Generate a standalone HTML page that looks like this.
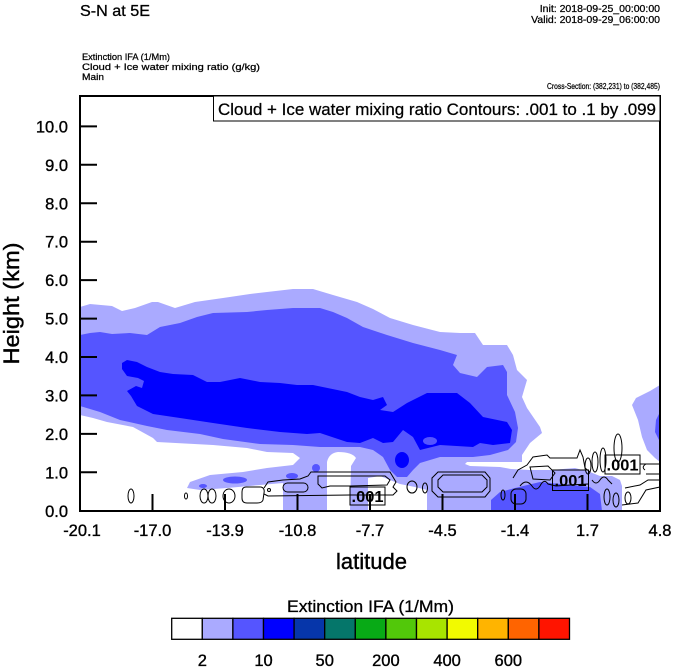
<!DOCTYPE html>
<html><head><meta charset="utf-8"><style>
html,body{margin:0;padding:0;background:#fff;}
body{width:674px;height:668px;overflow:hidden;}
svg{display:block;}
text{font-family:"Liberation Sans",Arial,Helvetica,sans-serif;fill:#000;}
</style></head><body>
<svg width="674" height="668" viewBox="0 0 674 668" xmlns="http://www.w3.org/2000/svg">
<rect x="0" y="0" width="674" height="668" fill="#fff"/>

<!-- header texts -->
<g stroke="#000" stroke-width="0.3">
<text x="80" y="16" font-size="16" textLength="70" lengthAdjust="spacingAndGlyphs">S-N at 5E</text>
</g>
<g stroke="#000" stroke-width="0.25">
<text x="660" y="12" font-size="10.5" text-anchor="end">Init: 2018-09-25_00:00:00</text>
<text x="660" y="23" font-size="10.5" text-anchor="end">Valid: 2018-09-29_06:00:00</text>
<text x="82" y="60" font-size="9.5" textLength="88" lengthAdjust="spacingAndGlyphs">Extinction IFA   (1/Mm)</text>
<text x="82" y="70" font-size="9.5" textLength="178" lengthAdjust="spacingAndGlyphs">Cloud + Ice water mixing ratio   (g/kg)</text>
<text x="82" y="80" font-size="9.5" textLength="22" lengthAdjust="spacingAndGlyphs">Main</text>
<text x="660" y="89" font-size="8.5" text-anchor="end" textLength="113" lengthAdjust="spacingAndGlyphs">Cross-Section: (382,231) to (382,485)</text>
</g>

<!-- filled field -->
<g stroke="none">
<path fill="#aaaaff" d="M80,307 L90,304 L112,306 L122,311 L135,308 L152,302 L158,302 L175,308 L195,302 L223,298 L250,294 L267,292 L293,289 L313,289 L333,295 L357,302 L373,309 L390,318 L413,325 L440,332 L460,333 L475,333 L483,345 L507,345 L513,355 L517,370 L527,380 L522,397 L527,408 L540,427 L542,433 L530,443 L522,455 L522,462 L495,462 L467,462 L465,464 L470,466 L500,467 L511,469 L530,470 L551,470 L575,468 L590,472 L600,476 L612,476 L620,480 L622,486 L622,511 L427,511 L427,490 L415,487 L400,484 L380,476 L368,478 L368,511 L283,511 L283,483 L260,485 L227,488 L200,490 L187,488 L190,482 L210,475 L243,472 L267,468 L293,465 L300,458 L293,453 L267,452 L247,448 L213,445 L157,442 L153,438 L133,427 L107,422 L93,418 L80,415 Z"/>
<path fill="#aaaaff" d="M660,385 L650,391 L636,398 L632,405 L638,420 L642,437 L647,450 L655,458 L660,462 Z"/>
<path fill="#ffffff" d="M327,511 L327,462 Q329,453 338,452 Q352,452 356,458 L351,466 L350,511 Z"/>
<path fill="#5555ff" d="M80,335 L90,333 L100,332 L112,334 L130,333 L147,335 L160,327 L180,323 L197,317 L213,313 L247,312 L267,310 L293,308 L320,308 L333,312 L347,318 L363,327 L387,335 L413,343 L440,350 L457,355 L453,365 L460,373 L477,377 L487,367 L503,365 L507,372 L507,395 L515,412 L518,428 L516,442 L508,450 L490,455 L473,457 L440,457 L420,463 L413,470 L407,477 L397,477 L390,470 L383,457 L373,450 L360,447 L340,447 L320,447 L293,445 L260,444 L223,439 L200,434 L167,430 L147,426 L120,420 L100,412 L80,406 Z"/>
<ellipse fill="#5555ff" cx="235" cy="480" rx="12" ry="3.5"/>
<ellipse fill="#5555ff" cx="292" cy="476" rx="6" ry="3"/>
<ellipse fill="#5555ff" cx="316" cy="468" rx="4" ry="4"/>
<ellipse fill="#5555ff" cx="203" cy="486" rx="4" ry="2"/>
<path fill="#5555ff" d="M491,511 L491,500 L500,492 L515,488 L540,482 L560,484 L590,487 L600,494 L602,511 Z"/>
<path fill="#5555ff" d="M660,412 L656,420 L655,432 L660,442 Z"/>
<path fill="#0000ff" d="M122,363 L127,360 L137,362 L147,367 L160,372 L173,374 L193,375 L207,382 L220,382 L240,378 L260,382 L280,383 L297,385 L313,385 L347,392 L360,397 L373,400 L383,397 L387,405 L380,410 L393,412 L407,403 L427,393 L457,393 L470,403 L483,417 L507,422 L512,430 L510,443 L493,445 L480,443 L473,447 L440,445 L420,450 L413,437 L403,430 L393,442 L383,443 L373,438 L360,443 L347,442 L320,433 L307,434 L280,432 L247,428 L213,423 L180,418 L153,414 L137,406 L131,396 L127,391 L136,386 L142,388 L144,381 L138,378 L127,376 L122,369 Z"/>
<ellipse fill="#5555ff" cx="430" cy="441" rx="7" ry="4"/>
<ellipse fill="#0000ff" cx="402" cy="460" rx="7" ry="8"/>
</g>

<!-- contours -->
<g fill="none" stroke="#000" stroke-width="1">
<ellipse cx="131" cy="496" rx="3" ry="7"/>
<ellipse cx="186" cy="496" rx="1.5" ry="3"/>
<ellipse cx="204" cy="496" rx="4" ry="7"/>
<ellipse cx="212" cy="496" rx="4" ry="7"/>
<ellipse cx="229" cy="496" rx="6" ry="7"/>
<path d="M246,487 L261,487 Q265,488 264,493 L263,500 Q262,503 257,503 L247,503 Q242,503 242,498 L242,492 Q242,487 246,487 Z"/>
<path d="M264,488 L268,482 L283,480 L300,479 L308,476 L311,472 L390,472 L393,477 L396,482 L393,487 L397,491 L393,495 L350,495 L268,496 L264,494"/>
<rect x="283" y="483" width="25" height="9" rx="4.5"/>
<path d="M318,476 L385,476 L390,480 L387,485 L350,486 L330,486 L322,488 L318,484 Z"/>
<circle cx="269" cy="490" r="1.5"/>
<ellipse cx="412" cy="487" rx="5" ry="6"/>
<ellipse cx="425" cy="488" rx="2.5" ry="5"/>
<path d="M438,472 L485,472 L490,478 L490,491 L485,497 L438,497 L432,491 L432,478 Z"/>
<path d="M443,475 L482,475 L487,480 L487,487 L482,492 L443,492 L438,487 L438,480 Z"/>
<ellipse cx="503" cy="495" rx="2" ry="5"/>
<rect x="511" y="489" width="15" height="15" rx="5"/>
<path d="M513,478 L518,470 L527,465 L533,457 L547,455 L550,458 L577,458 L580,450 L583,457 L585,468 L590,472"/>
<path d="M530,467 L548,466 L555,473 L550,480 L533,479 Z"/>
<path d="M520,486 Q526,478 532,486 Q536,492 540,486 Q544,478 548,484 L556,486 L570,485 L588,484"/>
<ellipse cx="588" cy="466" rx="3" ry="8"/>
<ellipse cx="595" cy="462" rx="3" ry="10"/>
<ellipse cx="603" cy="460" rx="3" ry="12"/>
<ellipse cx="618" cy="448" rx="4" ry="14"/>
<ellipse cx="607" cy="497" rx="3" ry="8"/>
<ellipse cx="616" cy="500" rx="3" ry="7"/>
<ellipse cx="628" cy="498" rx="3" ry="6"/>
<path d="M640,464 L660,464 M646,474 L660,474 M645,470 Q641,467 646,464"/>
<path d="M625,488 L640,485 L648,480 L660,480 M622,505 L638,503 L646,490 L660,487"/>
<path d="M592,480 Q596,486 600,480 Q604,474 608,480 L612,484"/>
</g>

<!-- contour labels -->
<g>
<rect x="350" y="487" width="35" height="18" fill="none" stroke="#000" stroke-width="1"/>
<text x="367.5" y="502" font-size="15.5" font-weight="bold" text-anchor="middle" textLength="32" lengthAdjust="spacingAndGlyphs">.001</text>
<rect x="552.5" y="470" width="36" height="20.5" fill="none" stroke="#000" stroke-width="1"/>
<text x="570.5" y="486" font-size="15.5" font-weight="bold" text-anchor="middle" textLength="32" lengthAdjust="spacingAndGlyphs">.001</text>
<rect x="605" y="455" width="35" height="19" fill="none" stroke="#000" stroke-width="1"/>
<text x="622.5" y="470.5" font-size="15.5" font-weight="bold" text-anchor="middle" textLength="32" lengthAdjust="spacingAndGlyphs">.001</text>
</g>

<!-- axes frame -->
<rect x="80" y="96" width="580" height="415" fill="none" stroke="#000" stroke-width="2"/>

<!-- title box -->
<rect x="213.5" y="96" width="446.5" height="25" fill="#fff" stroke="#000" stroke-width="1"/>
<text x="218" y="115" font-size="17" stroke="#000" stroke-width="0.25" textLength="438" lengthAdjust="spacingAndGlyphs">Cloud + Ice water mixing ratio Contours: .001 to .1 by .099</text>

<!-- ticks -->
<g stroke="#000" stroke-width="2">
<line x1="80" y1="472.3" x2="97" y2="472.3"/>
<line x1="80" y1="433.9" x2="97" y2="433.9"/>
<line x1="80" y1="395.4" x2="97" y2="395.4"/>
<line x1="80" y1="357" x2="97" y2="357"/>
<line x1="80" y1="318.6" x2="97" y2="318.6"/>
<line x1="80" y1="280.1" x2="97" y2="280.1"/>
<line x1="80" y1="241.7" x2="97" y2="241.7"/>
<line x1="80" y1="203.3" x2="97" y2="203.3"/>
<line x1="80" y1="164.8" x2="97" y2="164.8"/>
<line x1="80" y1="126.4" x2="97" y2="126.4"/>
<line x1="152.5" y1="511" x2="152.5" y2="494"/>
<line x1="225" y1="511" x2="225" y2="494"/>
<line x1="297.5" y1="511" x2="297.5" y2="494"/>
<line x1="370" y1="511" x2="370" y2="494"/>
<line x1="442.5" y1="511" x2="442.5" y2="494"/>
<line x1="515" y1="511" x2="515" y2="494"/>
<line x1="587.5" y1="511" x2="587.5" y2="494"/>
</g>

<g font-size="16.5" text-anchor="end" stroke="#000" stroke-width="0.35">
<text x="68" y="517">0.0</text>
<text x="68" y="478.3">1.0</text>
<text x="68" y="439.9">2.0</text>
<text x="68" y="401.4">3.0</text>
<text x="68" y="363">4.0</text>
<text x="68" y="324.6">5.0</text>
<text x="68" y="286.1">6.0</text>
<text x="68" y="247.7">7.0</text>
<text x="68" y="209.3">8.0</text>
<text x="68" y="170.8">9.0</text>
<text x="68" y="132.4">10.0</text>
</g>
<g font-size="16.5" text-anchor="middle" stroke="#000" stroke-width="0.35">
<text x="82" y="536">-20.1</text>
<text x="152.5" y="536">-17.0</text>
<text x="225" y="536">-13.9</text>
<text x="297.5" y="536">-10.8</text>
<text x="370" y="536">-7.7</text>
<text x="442.5" y="536">-4.5</text>
<text x="515" y="536">-1.4</text>
<text x="587.5" y="536">1.7</text>
<text x="660" y="536">4.8</text>
</g>

<g stroke="#000" stroke-width="0.4">
<text x="371.5" y="569" font-size="22" text-anchor="middle" textLength="71" lengthAdjust="spacingAndGlyphs">latitude</text>
<text transform="translate(19,303.5) rotate(-90)" x="0" y="0" font-size="22" text-anchor="middle" textLength="122" lengthAdjust="spacingAndGlyphs">Height (km)</text>
</g>

<!-- colorbar -->
<text x="370.5" y="612" font-size="17" text-anchor="middle" stroke="#000" stroke-width="0.3" textLength="167" lengthAdjust="spacingAndGlyphs">Extinction IFA  (1/Mm)</text>
<g stroke="#000" stroke-width="1.3">
<rect x="171.7" y="618.3" width="30.6" height="21" fill="#ffffff"/>
<rect x="202.3" y="618.3" width="30.6" height="21" fill="#aaaaff"/>
<rect x="232.9" y="618.3" width="30.6" height="21" fill="#5555ff"/>
<rect x="263.5" y="618.3" width="30.6" height="21" fill="#0000ff"/>
<rect x="294.1" y="618.3" width="30.6" height="21" fill="#0636aa"/>
<rect x="324.7" y="618.3" width="30.6" height="21" fill="#05766a"/>
<rect x="355.3" y="618.3" width="30.6" height="21" fill="#08aa16"/>
<rect x="385.9" y="618.3" width="30.6" height="21" fill="#52c80a"/>
<rect x="416.5" y="618.3" width="30.6" height="21" fill="#a8e400"/>
<rect x="447.1" y="618.3" width="30.6" height="21" fill="#f2fa00"/>
<rect x="477.7" y="618.3" width="30.6" height="21" fill="#ffb400"/>
<rect x="508.3" y="618.3" width="30.6" height="21" fill="#ff6400"/>
<rect x="538.9" y="618.3" width="30.6" height="21" fill="#ff1400"/>
</g>
<g font-size="16.5" text-anchor="middle" stroke="#000" stroke-width="0.35">
<text x="202.3" y="666">2</text>
<text x="263.5" y="666">10</text>
<text x="324.7" y="666">50</text>
<text x="385.9" y="666">200</text>
<text x="447.1" y="666">400</text>
<text x="508.3" y="666">600</text>
</g>
</svg>
</body></html>
